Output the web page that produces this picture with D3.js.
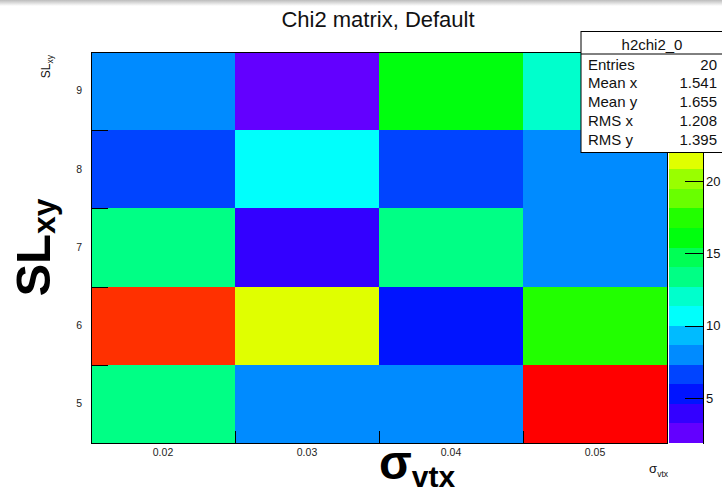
<!DOCTYPE html>
<html>
<head>
<meta charset="utf-8">
<script src="https://cdn.jsdelivr.net/npm/d3@7/dist/d3.min.js"></script>
<style>
  html, body { margin: 0; padding: 0; background: #fff; }
  svg { display: block; }
  text { font-family: "Liberation Sans", Arial, Helvetica, sans-serif; }
</style>
</head>
<body>
<svg id="chart" width="722" height="495"></svg>
<script>
// Bin labels of the two scan parameters
const sigmaLabels = ["0.02", "0.03", "0.04", "0.05"];
const slLabels = ["5", "6", "7", "8", "9"];

// Chi2 per bin, one array per SL_xy row, columns follow sigmaLabels
const chi2SL5 = [13.5, 7.8, 7.9, 28.94];
const chi2SL6 = [26.9, 21.5, 5.2, 17.4];
const chi2SL7 = [13.4, 3.9, 13.3, 8.1];
const chi2SL8 = [6.5, 10.6, 6.7, 8.0];
const chi2SL9 = [7.9, 1.89, 16.1, 12.0];
const chi2Rows = [chi2SL5, chi2SL6, chi2SL7, chi2SL8, chi2SL9];

// Statistics box contents
const statsTitle = "h2chi2_0";
const statsNames = ["Entries", "Mean x", "Mean y", "RMS x", "RMS y"];
const statsValues = ["20", "1.541", "1.655", "1.208", "1.395"];

// 20-level violet -> red rainbow palette
const palette = [
  "#6300ff", "#3300ff", "#0014ff", "#0044ff", "#008bff",
  "#00bbff", "#00fffc", "#00ffcc", "#00ff85", "#00ff55",
  "#00ff0e", "#22ff00", "#69ff00", "#99ff00", "#e0ff00",
  "#ffee00", "#ffa700", "#ff7700", "#ff3000", "#ff0000"
];

const svg = d3.select("#chart");
const frame = { left: 91, right: 667, top: 52, bottom: 443 };
const sb = { x: 581, y: 31.5, w: 142, h: 121 };

// faint shadow strip along the top edge
const defs = svg.append("defs");
const grad = defs.append("linearGradient").attr("id", "topShade")
  .attr("x1", 0).attr("y1", 0).attr("x2", 0).attr("y2", 1);
grad.append("stop").attr("offset", "0%").attr("stop-color", "#bcbcbc");
grad.append("stop").attr("offset", "100%").attr("stop-color", "#ffffff");
svg.append("rect").attr("x", 0).attr("y", 0).attr("width", 722).attr("height", 6)
  .attr("fill", "url(#topShade)");

// scales
const x = d3.scaleBand().domain(sigmaLabels).range([frame.left, frame.right]);
const y = d3.scaleBand().domain(slLabels).range([frame.bottom, frame.top]);
const xEdge = d3.scaleLinear().domain([0, sigmaLabels.length]).range([frame.left, frame.right]);
const yEdge = d3.scaleLinear().domain([0, slLabels.length]).range([frame.bottom, frame.top]);

const cells = [];
chi2Rows.forEach((row, j) => row.forEach((v, i) => cells.push({ sx: sigmaLabels[i], sl: slLabels[j], v })));
const zExt = d3.extent(cells, d => d.v);
const color = d3.scaleQuantize().domain(zExt).range(palette);

// histogram cells
svg.append("g").selectAll("rect").data(cells).join("rect")
  .attr("x", d => x(d.sx))
  .attr("y", d => y(d.sl))
  .attr("width", x.bandwidth())
  .attr("height", y.bandwidth())
  .attr("fill", d => color(d.v))
  .attr("shape-rendering", "crispEdges");

// frame
svg.append("rect")
  .attr("x", frame.left).attr("y", frame.top)
  .attr("width", frame.right - frame.left).attr("height", frame.bottom - frame.top)
  .attr("fill", "none").attr("stroke", "#000").attr("stroke-width", 1)
  .attr("shape-rendering", "crispEdges");

// bin-edge ticks
const xTicks = svg.append("g").attr("transform", `translate(0,${frame.bottom})`)
  .call(d3.axisBottom(xEdge).ticks(sigmaLabels.length).tickSize(-12).tickSizeOuter(0).tickFormat(""));
xTicks.select(".domain").remove();
const yTicks = svg.append("g").attr("transform", `translate(${frame.left},0)`)
  .call(d3.axisLeft(yEdge).ticks(slLabels.length).tickSize(-17).tickSizeOuter(0).tickFormat(""));
yTicks.select(".domain").remove();
svg.selectAll(".tick line").attr("stroke", "#000").attr("shape-rendering", "crispEdges");

// bin labels
const xLab = svg.append("g").attr("transform", `translate(0,${frame.bottom})`)
  .call(d3.axisBottom(x).tickSize(0).tickPadding(6));
xLab.select(".domain").remove();
xLab.selectAll("text").attr("font-size", 10.5).attr("fill", "#222")
  .attr("font-family", "'Liberation Sans', Arial, sans-serif");
const yLab = svg.append("g").attr("transform", `translate(${frame.left},0)`)
  .call(d3.axisLeft(y).tickSize(0).tickPadding(9));
yLab.select(".domain").remove();
yLab.selectAll("text").attr("font-size", 10.5).attr("fill", "#222")
  .attr("font-family", "'Liberation Sans', Arial, sans-serif");

// colour palette bar
const bar = { x0: 669, x1: 703 };
const z = d3.scaleLinear().domain(zExt).range([frame.bottom, frame.top]);
svg.append("g").selectAll("rect").data(palette).join("rect")
  .attr("x", bar.x0)
  .attr("width", bar.x1 - bar.x0)
  .attr("y", c => z(color.invertExtent(c)[1]))
  .attr("height", c => z(color.invertExtent(c)[0]) - z(color.invertExtent(c)[1]))
  .attr("fill", c => c)
  .attr("shape-rendering", "crispEdges");
// labels under the statistics box are not drawn
const zTickValues = z.ticks(5).filter(t => z(t) > sb.y + sb.h + 6);
const zAxis = svg.append("g").attr("transform", `translate(${bar.x1},0)`)
  .call(d3.axisRight(z).tickValues(zTickValues).tickSize(-18).tickSizeOuter(0).tickPadding(3));
zAxis.selectAll("line, path").attr("stroke", "#000").attr("shape-rendering", "crispEdges");
zAxis.selectAll("text").attr("font-size", 13).attr("fill", "#111")
  .attr("font-family", "'Liberation Sans', Arial, sans-serif");

// title
svg.append("text").attr("x", 378).attr("y", 27).attr("text-anchor", "middle")
  .attr("font-size", 22).attr("fill", "#111").text("Chi2 matrix, Default");

// small default axis titles
const sxTitle = svg.append("text").attr("x", frame.right + 1).attr("y", 473)
  .attr("text-anchor", "end").attr("fill", "#111");
sxTitle.append("tspan").attr("font-size", 13).text("σ");
sxTitle.append("tspan").attr("font-size", 8.5).attr("dy", 4).text("vtx");

const syTitle = svg.append("text")
  .attr("transform", `translate(50,${frame.top + 3}) rotate(-90)`)
  .attr("text-anchor", "end").attr("fill", "#111");
syTitle.append("tspan").attr("font-size", 12).text("SL");
syTitle.append("tspan").attr("font-size", 8.5).attr("dy", 3).text("xy");

// large bold axis titles
const bxTitle = svg.append("text").attr("x", 379).attr("y", 479)
  .attr("font-weight", "bold").attr("fill", "#000");
bxTitle.append("tspan").attr("font-size", 48).text("σ");
bxTitle.append("tspan").attr("font-size", 30).attr("dy", 8).text("vtx");

const byTitle = svg.append("text")
  .attr("transform", `translate(50,${(frame.top + frame.bottom) / 2}) rotate(-90)`)
  .attr("text-anchor", "middle").attr("font-weight", "bold").attr("fill", "#000");
byTitle.append("tspan").attr("font-size", 49).text("SL");
byTitle.append("tspan").attr("font-size", 32).attr("dy", 5).text("xy");

// statistics box
const stats = svg.append("g");
stats.append("rect").attr("x", sb.x).attr("y", sb.y).attr("width", sb.w).attr("height", sb.h)
  .attr("fill", "#fff").attr("stroke", "#000").attr("stroke-width", 1);
stats.append("line").attr("x1", sb.x).attr("x2", sb.x + sb.w).attr("y1", 54).attr("y2", 54)
  .attr("stroke", "#000").attr("stroke-width", 1);
stats.append("text").attr("x", sb.x + 71).attr("y", 50).attr("text-anchor", "middle")
  .attr("font-size", 15).attr("fill", "#111").text(statsTitle);
const rowY = d3.scaleLinear().domain([0, statsNames.length - 1]).range([69.5, 145]);
stats.selectAll("text.name").data(statsNames).join("text").attr("class", "name")
  .attr("x", 588).attr("y", (d, i) => rowY(i))
  .attr("font-size", 15).attr("fill", "#111").text(d => d);
stats.selectAll("text.val").data(statsValues).join("text").attr("class", "val")
  .attr("x", 717).attr("y", (d, i) => rowY(i)).attr("text-anchor", "end")
  .attr("font-size", 15).attr("fill", "#111").text(d => d);
</script>
</body>
</html>
